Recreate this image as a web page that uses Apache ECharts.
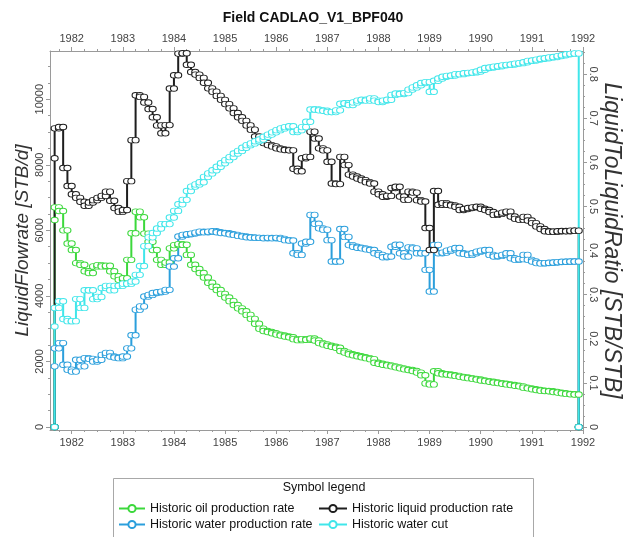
<!DOCTYPE html>
<html><head><meta charset="utf-8">
<script src="https://cdn.jsdelivr.net/npm/echarts@6/dist/echarts.min.js"></script>
<style>html,body{margin:0;padding:0;background:#fff}#c{width:626px;height:537px}</style>
</head><body><div id="c"></div>
<script>
// ---- data (monthly historic rates, first month Sep 1981) ----
const startYear = 1981, startMonth = 9;
const yearLabels = [1982,1983,1984,1985,1986,1987,1988,1989,1990,1991,1992];
const leftTicks = [0,2000,4000,6000,8000,10000];
const rightTicks = [0,0.1,0.2,0.3,0.4,0.5,0.6,0.7,0.8];
const seriesNames = ['Historic oil production rate','Historic water production rate','Historic liquid production rate','Historic water cut'];
// first reported (partial-period) values at the first date
const oilInitial = 6315, waterInitial = 1850, liquidInitial = 8200, waterCutInitial = 0.228;
const oilRate = [6700,6590,6000,5600,5400,5000,4950,4750,4700,4900,
  4940,4900,4920,4750,4600,4490,4540,5100,5910,6570,
  6400,5900,5650,5400,5100,4950,5020,5450,5550,5580,
  5560,5250,4950,4820,4700,4560,4400,4280,4180,4060,
  3950,3840,3720,3620,3530,3420,3300,3150,3000,2930,
  2900,2860,2820,2790,2760,2740,2680,2650,2680,2660,
  2700,2640,2560,2520,2480,2450,2420,2320,2270,2220,
  2190,2160,2130,2100,2070,1960,1930,1900,1880,1850,
  1820,1790,1760,1740,1710,1660,1580,1330,1300,1700,
  1640,1610,1600,1580,1560,1530,1510,1490,1470,1450,
  1420,1400,1380,1360,1340,1320,1300,1280,1260,1240,
  1200,1180,1150,1130,1110,1100,1090,1070,1050,1030,
  1010,1000,990];
const waterRate = [2400,2560,1900,1750,1690,2050,1850,2100,2080,2000,
  2050,2200,2260,2150,2120,2100,2150,2400,2800,3580,
  3680,3980,4030,4090,4110,4130,4185,4895,5150,5810,
  5860,5880,5900,5930,5960,5940,5960,5970,5940,5920,
  5910,5880,5860,5830,5810,5790,5780,5770,5770,5760,
  5770,5760,5770,5740,5700,5690,5300,5250,5600,5650,
  6470,6200,6060,6020,5700,5050,5050,6040,5800,5550,
  5500,5470,5450,5420,5400,5300,5250,5180,5200,5500,
  5560,5300,5200,5480,5450,5300,5300,4795,4135,5555,
  5300,5320,5380,5420,5460,5300,5280,5250,5300,5350,
  5380,5400,5250,5200,5220,5250,5300,5150,5100,5120,
  5250,5100,5050,5000,4990,5000,5010,5020,5030,5040,
  5040,5050,5050];
const liquidRate = [9110,9150,7900,7350,7100,6990,6870,6750,6850,6920,
  6990,7050,7180,6900,6680,6570,6620,7500,8750,10120,
  10070,9900,9700,9450,9200,8960,9210,10325,10730,11390,
  11400,11050,10830,10750,10650,10500,10330,10230,10100,9980,
  9850,9720,9580,9450,9340,9200,9070,8860,8740,8660,
  8600,8560,8500,8470,8450,8440,7880,7800,8200,8240,
  9010,8800,8500,8440,8090,7430,7410,8240,7990,7700,
  7640,7580,7530,7470,7430,7180,7100,7025,7050,7290,
  7330,7030,6930,7180,7150,6920,6880,6070,5400,7200,
  6780,6830,6780,6760,6720,6620,6650,6680,6700,6720,
  6660,6620,6560,6470,6500,6540,6570,6420,6350,6320,
  6410,6300,6220,6120,6040,5970,5960,5960,5970,5980,
  5970,5990,5990];
const waterCut = [0.27,0.285,0.245,0.24,0.24,0.29,0.27,0.31,0.31,0.29,
  0.295,0.315,0.32,0.31,0.32,0.32,0.325,0.325,0.33,0.345,
  0.365,0.41,0.43,0.44,0.45,0.46,0.46,0.475,0.49,0.505,
  0.515,0.535,0.545,0.55,0.555,0.567,0.575,0.582,0.59,0.598,
  0.605,0.612,0.62,0.626,0.633,0.639,0.643,0.648,0.652,0.658,
  0.663,0.668,0.673,0.677,0.68,0.682,0.669,0.673,0.68,0.692,
  0.72,0.72,0.718,0.717,0.714,0.714,0.718,0.733,0.734,0.73,
  0.736,0.74,0.742,0.74,0.745,0.74,0.737,0.74,0.742,0.753,
  0.756,0.755,0.757,0.765,0.77,0.775,0.78,0.782,0.76,0.785,
  0.79,0.794,0.796,0.797,0.8,0.8,0.802,0.803,0.804,0.806,
  0.81,0.814,0.815,0.817,0.818,0.82,0.821,0.822,0.824,0.825,
  0.827,0.83,0.831,0.833,0.835,0.836,0.838,0.839,0.841,0.843,
  0.845,0.846,0.847];

// ---- month boundaries (decimal years) ----
const bounds = [];
for (let m = 0; m <= oilRate.length; m++) bounds.push(startYear + (startMonth - 1 + m) / 12);

// historic rate as a step curve: value held from start to end of each month
function stepPoints(initial, vals) {
  const pts = [[bounds[0], 0], [bounds[0], initial]];
  vals.forEach((v, m) => { pts.push([bounds[m], v]); pts.push([bounds[m + 1], v]); });
  pts.push([bounds[vals.length], 0]);
  return pts;
}

const FONT = '"Liberation Sans", Arial, sans-serif';
const AX = '#9a9a9a';
const xMin = 1981.576, xMax = 1992;
const yLMin = -91, yLMax = 11470, yRMin = -0.0068, yRMax = 0.8525;

const quarterTicks = [];
for (let y = 1981; y < 1992; y++) for (let q = 1; q < 4; q++) { const v = y + q / 4; if (v > xMin) quarterTicks.push(v); }
const leftMinor = [];
for (let v = 500; v < yLMax; v += 500) if (v % 2000 !== 0) leftMinor.push(v);
const rightMinor = [];
for (let k = 1; k * 0.025 < yRMax; k++) if (k % 4 !== 0) rightMinor.push(+(k * 0.025).toFixed(3));

function xAx(pos, minor) {
  return {
    type: 'value', position: pos, min: xMin, max: xMax, gridIndex: 0,
    axisLine: { show: !minor, onZero: false, lineStyle: { color: AX, width: 1 } },
    axisTick: { show: true, inside: false, length: minor ? 2 : 4, lineStyle: { color: AX }, customValues: minor ? quarterTicks : yearLabels },
    axisLabel: { show: !minor, customValues: yearLabels, formatter: v => String(Math.round(v)), color: '#444', fontSize: 11, fontFamily: FONT, margin: 7 },
    splitLine: { show: false }
  };
}
function yAx(pos, minor, mn, mx, ticks, minorTicks, extra) {
  return Object.assign({
    type: 'value', position: pos, min: mn, max: mx,
    axisLine: { show: !minor, onZero: false, lineStyle: { color: AX, width: 1 } },
    axisTick: { show: true, length: minor ? 2 : 4, lineStyle: { color: AX }, customValues: minor ? minorTicks : ticks },
    axisLabel: { show: !minor, customValues: ticks, color: '#444', fontSize: 11, fontFamily: FONT, margin: 5 },
    splitLine: { show: false }
  }, extra || {});
}

const colors = { oil: '#3cd83c', water: '#2b9fdc', liquid: '#1e1e1e', wcut: '#40e6ea' };
function ser(name, color, yIdx, pts, lw) {
  return {
    name, type: 'line', xAxisIndex: 0, yAxisIndex: yIdx, data: pts,
    symbol: 'circle', symbolSize: [7, 5.5], showAllSymbol: true,
    itemStyle: { color: '#ffffff', borderColor: color, borderWidth: 1 },
    lineStyle: { color: color, width: lw },
    emphasis: { disabled: true }, animation: false
  };
}

const chart = echarts.init(document.getElementById('c'), null, { renderer: 'canvas' });
chart.setOption({
  backgroundColor: '#ffffff',
  animation: false,
  title: { text: 'Field CADLAO_V1_BPF040', left: 'center', top: 6, textStyle: { fontFamily: FONT, fontWeight: 'bold', fontSize: 14, color: '#111' } },
  grid: { left: 50, right: 43, top: 51, bottom: 107, containLabel: false, outerBoundsMode: 'none' },
  xAxis: [xAx('bottom', false), xAx('top', false), xAx('bottom', true), xAx('top', true)],
  yAxis: [
    yAx('left', false, yLMin, yLMax, leftTicks, null, {
      name: 'LiquidFlowrate [STB/d]', nameLocation: 'middle', nameGap: 18, nameMoveOverlap: false,
      nameTextStyle: { fontFamily: FONT, fontStyle: 'italic', fontSize: 19, color: '#333' },
      axisLabel: { show: true, customValues: leftTicks, formatter: v => String(v), rotate: 90, color: '#444', fontSize: 11, fontFamily: FONT, margin: 5 }
    }),
    yAx('right', false, yRMin, yRMax, rightTicks, null, {
      name: 'LiquidToLiquidRatio [STB/STB]', nameLocation: 'middle', nameGap: 17, nameRotate: -90, nameMoveOverlap: false,
      nameTextStyle: { fontFamily: FONT, fontStyle: 'italic', fontSize: 23, color: '#333' },
      axisLabel: { show: true, customValues: rightTicks, formatter: v => String(v), rotate: -90, color: '#444', fontSize: 11, fontFamily: FONT, margin: 5 }
    }),
    yAx('left', true, yLMin, yLMax, leftTicks, leftMinor),
    yAx('right', true, yRMin, yRMax, rightTicks, rightMinor)
  ],
  legend: [
    { data: [seriesNames[0], seriesNames[1]], orient: 'vertical', left: 118, top: 502, itemGap: 3, itemWidth: 26, itemHeight: 9, padding: 0, selectedMode: false,
      textStyle: { fontFamily: FONT, fontSize: 12.5, color: '#111' } },
    { data: [seriesNames[2], seriesNames[3]], orient: 'vertical', left: 318, top: 502, itemGap: 3, itemWidth: 28, itemHeight: 9, padding: 0, selectedMode: false,
      textStyle: { fontFamily: FONT, fontSize: 12.5, color: '#111' } }
  ],
  graphic: [
    { type: 'rect', shape: { x: 113.5, y: 478.5, width: 420, height: 80 }, style: { fill: 'none', stroke: '#a8a8a8', lineWidth: 1 }, z: -1 },
    { type: 'text', x: 324, y: 488, style: { text: 'Symbol legend', fontFamily: FONT, fontSize: 12.5, fill: '#111', textAlign: 'center', textVerticalAlign: 'middle' } }
  ],
  series: [
    ser(seriesNames[0], colors.oil, 0, stepPoints(oilInitial, oilRate), 2),
    ser(seriesNames[1], colors.water, 0, stepPoints(waterInitial, waterRate), 2),
    ser(seriesNames[2], colors.liquid, 0, stepPoints(liquidInitial, liquidRate), 2),
    ser(seriesNames[3], colors.wcut, 1, stepPoints(waterCutInitial, waterCut), 2)
  ]
});
</script></body></html>
